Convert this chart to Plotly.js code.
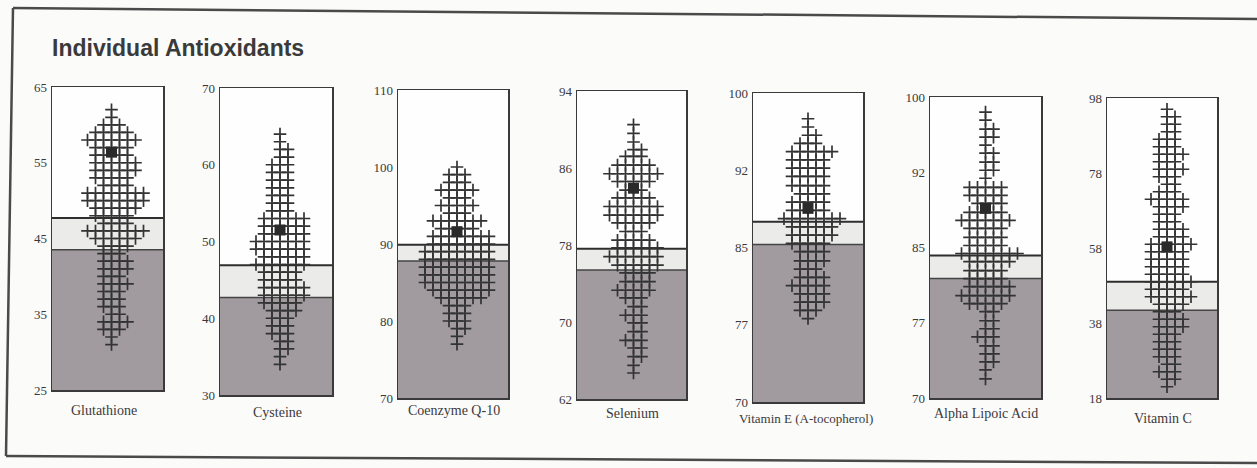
<!DOCTYPE html>
<html><head><meta charset="utf-8">
<script src="https://cdn.plot.ly/plotly-3.0.1.min.js"></script>
<style>html,body{margin:0;padding:0;background:#fbfbfa;} #chart{width:1257px;height:468px;}</style>
</head><body><div id="chart"></div>
<script>
// ---------- DATA ----------
const analytes = ["Glutathione", "Cysteine", "Coenzyme Q-10", "Selenium", "Vitamin E (A-tocopherol)", "Alpha Lipoic Acid", "Vitamin C"];
const axisMin = [25, 30, 70, 62, 70, 70, 18];
const axisMax = [65, 70, 110, 94, 100, 100, 98];
const tickValues = [
  [25, 35, 45, 55, 65], [30, 40, 50, 60, 70], [70, 80, 90, 100, 110], [62, 70, 78, 86, 94],
  [70, 77.5, 85, 92.5, 100], [70, 77.5, 85, 92.5, 100], [18, 38, 58, 78, 98]];
const tickLabels = [
  ["25", "35", "45", "55", "65"], ["30", "40", "50", "60", "70"], ["70", "80", "90", "100", "110"], ["62", "70", "78", "86", "94"],
  ["70", "77", "85", "92", "100"], ["70", "77", "85", "92", "100"], ["18", "38", "58", "78", "98"]];
const upperLimit = [47.7, 46.9, 89.9, 77.6, 87.5, 84.2, 49.0];
const lowerLimit = [43.5, 42.7, 87.8, 75.4, 85.3, 81.9, 41.4];
const patientValue = [56.4, 51.5, 91.6, 83.9, 88.8, 88.9, 58.3];

const glutathioneLevels = [62, 61, 60, 59, 58, 57, 56, 55, 54, 53, 52, 51, 50, 49, 48, 47, 46, 45, 44, 43, 42, 41, 40, 39, 38, 37, 36, 35, 34, 33, 32, 31];
const glutathioneCounts = [1, 1, 3, 5, 7, 5, 5, 6, 6, 5, 4, 8, 8, 6, 5, 4, 8, 6, 4, 3, 4, 4, 3, 4, 3, 3, 3, 2, 4, 3, 1, 1];
const cysteineLevels = [64, 63, 62, 61, 60, 59, 58, 57, 56, 55, 54, 53, 52, 51, 50, 49, 48, 47, 46, 45, 44, 43, 42, 41, 40, 39, 38, 37, 36, 35, 34];
const cysteineCounts = [1, 1, 2, 2, 3, 3, 3, 3, 3, 3, 3, 6, 6, 6, 7, 7, 6, 7, 5, 5, 6, 6, 5, 4, 3, 3, 3, 2, 2, 1, 1];
const coq10Levels = [100, 99, 98, 97, 96, 95, 94, 93, 92, 91, 90, 89, 88, 87, 86, 85, 84, 83, 82, 81, 80, 79, 78, 77];
const coq10Counts = [1, 3, 3, 5, 3, 5, 3, 7, 5, 8, 8, 9, 9, 9, 9, 9, 8, 6, 3, 3, 3, 2, 1, 1];
const seleniumLevels = [90.5, 89.6, 88.7, 87.9, 87.2, 86.3, 85.4, 84.6, 83.7, 82.9, 82.0, 81.1, 80.3, 79.4, 78.5, 77.7, 76.8, 75.9, 75.1, 74.2, 73.3, 72.5, 71.6, 70.7, 69.9, 69.0, 68.1, 67.3, 66.4, 65.5, 64.7];
const seleniumCounts = [1, 1, 1, 2, 3, 5, 7, 5, 3, 5, 7, 7, 5, 3, 5, 6, 7, 6, 4, 4, 5, 3, 2, 3, 2, 2, 3, 2, 2, 1, 1];
const vitaminELevels = [97.5, 96.7, 95.9, 95.1, 94.3, 93.5, 92.7, 91.9, 91.0, 90.2, 89.4, 88.6, 87.8, 87.0, 86.2, 85.4, 84.6, 83.7, 82.9, 82.1, 81.3, 80.5, 79.7, 78.9, 78.1];
const vitaminECounts = [1, 1, 2, 3, 6, 5, 5, 5, 5, 4, 5, 5, 8, 6, 6, 5, 4, 4, 3, 4, 5, 4, 4, 3, 1];
const lipoicLevels = [98.5, 97.7, 96.8, 96.0, 95.2, 94.4, 93.5, 92.7, 91.9, 91.0, 90.2, 89.4, 88.5, 87.7, 86.9, 86.0, 85.2, 84.4, 83.6, 82.7, 81.9, 81.1, 80.2, 79.4, 78.6, 77.7, 76.9, 76.1, 75.2, 74.4, 73.6, 72.8, 71.9];
const lipoicCounts = [1, 1, 2, 2, 1, 2, 2, 2, 1, 5, 5, 4, 5, 7, 5, 5, 5, 8, 6, 5, 5, 6, 7, 5, 2, 2, 2, 3, 2, 2, 2, 1, 1];
const vitaminCLevels = [95, 93, 91, 89, 87, 85, 83, 81, 79, 77, 75, 73, 71, 69, 67, 65, 63, 61, 59, 57, 55, 53, 51, 49, 47, 45, 43, 41, 39, 37, 35, 33, 31, 29, 27, 25, 23, 21];
const vitaminCCounts = [1, 2, 2, 2, 3, 3, 4, 3, 4, 3, 2, 3, 5, 4, 3, 3, 4, 4, 6, 5, 5, 5, 5, 6, 5, 6, 4, 3, 4, 4, 3, 3, 3, 3, 2, 3, 2, 1];

const levels = [glutathioneLevels, cysteineLevels, coq10Levels, seleniumLevels, vitaminELevels, lipoicLevels, vitaminCLevels];
const counts = [glutathioneCounts, cysteineCounts, coq10Counts, seleniumCounts, vitaminECounts, lipoicCounts, vitaminCCounts];

// ---------- LAYOUT GEOMETRY (pixels) ----------
const W = 1257, H = 468;
const boxes = [[52, 163, 87, 390], [220, 332, 88, 395], [398, 508, 90, 398], [577, 686, 91, 399], [753, 863, 93, 402], [930, 1041, 97, 398], [1107, 1217, 98, 398]];
const crossShiftPx = [4, 4, 4, 2, 0, 0, 5];
const labelPos = [[104, 410], [277, 412], [454, 410], [632, 413], [806, 418], [986, 413], [1163, 418]];
const labelSize = [14, 14, 14, 14, 13, 14, 14];
const CELL = 8;

const ink = '#333333';
const traces = [];
const shapes = [];
const annotations = [];
const layout = {
  width: W, height: H,
  margin: {l: 0, r: 0, t: 0, b: 0},
  paper_bgcolor: '#fbfbfa',
  plot_bgcolor: '#fefefe',
  showlegend: false,
  title: {text: '<b>Individual Antioxidants</b>', x: 52 / W, xanchor: 'left', xref: 'paper',
          y: 1 - 48 / H, yanchor: 'middle', yref: 'paper',
          font: {family: 'Liberation Sans, Arial, sans-serif', size: 23, color: '#3a3a3a'}},
};

for (let k = 0; k < 7; k++) {
  const id = k === 0 ? '' : String(k + 1);
  const [x0, x1, y0, y1] = boxes[k];
  const wpx = x1 - x0;
  const lo = -(wpx / 2 + crossShiftPx[k]) / CELL;
  const hi = (wpx / 2 - crossShiftPx[k]) / CELL;
  layout['xaxis' + id] = {
    domain: [x0 / W, x1 / W], range: [lo, hi], anchor: 'y' + id,
    showticklabels: false, ticks: '', showgrid: false, zeroline: false,
    showline: true, mirror: true, linecolor: '#3a3a3a', linewidth: 1.5, fixedrange: true
  };
  layout['yaxis' + id] = {
    domain: [1 - y1 / H, 1 - y0 / H], range: [axisMin[k], axisMax[k]], anchor: 'x' + id,
    tickvals: tickValues[k], ticktext: tickLabels[k], ticks: '', ticklabelstandoff: 1,
    tickfont: {family: 'Liberation Serif, Times New Roman, serif', size: 13, color: '#3a3a3a'},
    showgrid: false, zeroline: false, showline: true, mirror: true, linecolor: '#3a3a3a', linewidth: 1.5, fixedrange: true
  };
  shapes.push({type: 'rect', xref: 'x' + id + ' domain', yref: 'y' + id, x0: 0, x1: 1, y0: axisMin[k], y1: lowerLimit[k],
               fillcolor: '#a19ba0', line: {width: 0}, layer: 'below'});
  shapes.push({type: 'rect', xref: 'x' + id + ' domain', yref: 'y' + id, x0: 0, x1: 1, y0: lowerLimit[k], y1: upperLimit[k],
               fillcolor: '#ebebea', line: {width: 0}, layer: 'below'});
  shapes.push({type: 'line', xref: 'x' + id + ' domain', yref: 'y' + id, x0: 0, x1: 1, y0: upperLimit[k], y1: upperLimit[k],
               line: {color: '#2e2e2e', width: 2}, layer: 'below'});
  shapes.push({type: 'line', xref: 'x' + id + ' domain', yref: 'y' + id, x0: 0, x1: 1, y0: lowerLimit[k], y1: lowerLimit[k],
               line: {color: '#444', width: 1.5}, layer: 'below'});
  const xs = [], ys = [];
  levels[k].forEach((lv, r) => {
    const n = counts[k][r];
    const start = -Math.floor((n - 1) / 2);
    for (let j = 0; j < n; j++) { xs.push(start + j); ys.push(lv); }
  });
  traces.push({type: 'scatter', mode: 'markers', x: xs, y: ys, xaxis: 'x' + id, yaxis: 'y' + id,
               marker: {symbol: 'cross-thin-open', size: 9, color: ink, line: {width: 1.7, color: ink}}, hoverinfo: 'skip'});
  traces.push({type: 'scatter', mode: 'markers', x: [0], y: [patientValue[k]], xaxis: 'x' + id, yaxis: 'y' + id,
               marker: {symbol: 'square', size: 11, color: '#2a2a2a', line: {width: 0}}, hoverinfo: 'skip'});
  annotations.push({text: analytes[k], xref: 'paper', yref: 'paper', x: labelPos[k][0] / W, y: 1 - labelPos[k][1] / H,
                    xanchor: 'center', yanchor: 'middle', showarrow: false,
                    font: {family: 'Liberation Serif, Times New Roman, serif', size: labelSize[k], color: '#3a3a3a'}});
}

const P = (px, py) => [px / W, 1 - py / H];
[[[13, 8], [1257, 19]], [[13, 8], [6, 456]], [[6, 456], [1257, 463]]].forEach(([a, b]) => {
  const [ax, ay] = P(a[0], a[1]);
  const [bx, by] = P(b[0], b[1]);
  shapes.push({type: 'line', xref: 'paper', yref: 'paper', x0: ax, y0: ay, x1: bx, y1: by, line: {color: '#4a4a4a', width: 2.5}});
});

layout.shapes = shapes;
layout.annotations = annotations;
Plotly.newPlot('chart', traces, layout, {displayModeBar: false, staticPlot: true});
</script>
</body></html>
